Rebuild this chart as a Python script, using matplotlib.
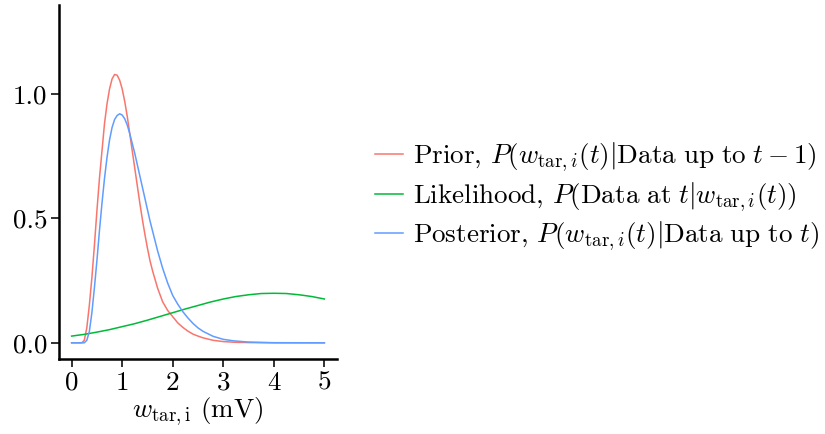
import numpy as np
import matplotlib
matplotlib.use("Agg")
import matplotlib.pyplot as plt

plt.rcParams['mathtext.fontset'] = 'cm'
plt.rcParams['font.family'] = 'serif'
plt.rcParams['font.serif'] = ['cmr10']
plt.rcParams['axes.formatter.use_mathtext'] = True
plt.rcParams['axes.unicode_minus'] = False

# values
prior_x = [0, 0.2, 0.25, 0.3, 0.35, 0.4, 0.45, 0.5, 0.55, 0.6, 0.65, 0.7, 0.75, 0.8, 0.85,
           0.9, 0.95, 1.0, 1.05, 1.1, 1.15, 1.2, 1.25, 1.3, 1.35, 1.4, 1.45, 1.5, 1.55, 1.6,
           1.7, 1.8, 1.9, 2.0, 2.1, 2.2, 2.3, 2.4, 2.5, 2.6, 2.8, 3.0, 3.25, 3.5, 4.0, 5.0]
prior_y = [0, 0, 0.01, 0.06, 0.15, 0.26, 0.39, 0.53, 0.66, 0.77, 0.88, 0.96, 1.02, 1.06, 1.078,
           1.075, 1.055, 1.02, 0.97, 0.91, 0.84, 0.77, 0.70, 0.63, 0.56, 0.495, 0.435, 0.38, 0.33, 0.29,
           0.22, 0.165, 0.13, 0.105, 0.08, 0.062, 0.047, 0.035, 0.027, 0.02, 0.01, 0.005, 0.002, 0.001, 0, 0]

lik_x = [0, 0.25, 0.5, 0.75, 1.0, 1.25, 1.5, 1.75, 2.0, 2.25, 2.5, 2.75, 3.0, 3.25, 3.5,
         3.75, 4.0, 4.25, 4.5, 4.75, 5.0]
lik_y = [0.027, 0.034, 0.043, 0.053, 0.065, 0.077, 0.091, 0.106, 0.121, 0.136, 0.150, 0.164, 0.176, 0.186, 0.193,
         0.198, 0.199, 0.198, 0.193, 0.186, 0.176]

post_x = [0, 0.25, 0.3, 0.35, 0.4, 0.45, 0.5, 0.55, 0.6, 0.65, 0.7, 0.75, 0.8, 0.85, 0.9,
          0.95, 1.0, 1.05, 1.1, 1.15, 1.2, 1.25, 1.3, 1.35, 1.4, 1.45, 1.5, 1.55, 1.6, 1.65,
          1.7, 1.8, 1.9, 2.0, 2.1, 2.2, 2.3, 2.4, 2.5, 2.6, 2.8, 3.0, 3.2, 3.5, 4.0, 5.0]
post_y = [0, 0, 0.01, 0.045, 0.12, 0.22, 0.33, 0.45, 0.56, 0.66, 0.745, 0.815, 0.865, 0.897, 0.913,
          0.92, 0.915, 0.90, 0.875, 0.84, 0.80, 0.76, 0.715, 0.67, 0.625, 0.58, 0.535, 0.49, 0.45, 0.41,
          0.37, 0.30, 0.24, 0.19, 0.155, 0.125, 0.10, 0.078, 0.06, 0.046, 0.026, 0.014, 0.008, 0.003, 0.0005, 0]

labels = [r"Prior, $P(w_{\mathrm{tar},i}(t)|\mathrm{Data\ up\ to\ }t-1)$",
          r"Likelihood, $P(\mathrm{Data\ at\ }t|w_{\mathrm{tar},i}(t))$",
          r"Posterior, $P(w_{\mathrm{tar},i}(t)|\mathrm{Data\ up\ to\ }t)$"]
colors = ['#F8766D', '#00BA38', '#619CFF']

fig = plt.figure(figsize=(8.25, 4.34), dpi=100)
ax = fig.add_axes([59/825, 75/434, (337-59)/825, (429-75)/434])

lines = []
for xs, ys, c in zip([prior_x, lik_x, post_x], [prior_y, lik_y, post_y], colors):
    l, = ax.plot(xs, ys, color=c, lw=1.1)
    lines.append(l)

ax.set_xlim(-0.25, 5.25)
ax.set_ylim(-0.065, 1.357)
ax.set_xticks([0, 1, 2, 3, 4, 5])
ax.set_xticklabels(['0', '1', '2', '3', '4', '5'])
ax.set_yticks([0, 0.5, 1.0])
ax.set_yticklabels(['0.0', '0.5', '1.0'])
ax.tick_params(labelsize=19.5, width=1.3, length=5.5, color='#222222', pad=3)
ax.spines['top'].set_visible(False)
ax.spines['right'].set_visible(False)
ax.spines['left'].set_linewidth(1.8)
ax.spines['bottom'].set_linewidth(1.8)
ax.set_xlabel(r"$w_{\mathrm{tar,i}}$ (mV)", fontsize=19.5, labelpad=1)

fig.legend(lines, labels, loc='center left', bbox_to_anchor=(0.425, 0.546),
           frameon=False, fontsize=19.5, handlelength=1.05, handletextpad=0.35,
           labelspacing=0.22)

fig.savefig('out.png', dpi=100)
